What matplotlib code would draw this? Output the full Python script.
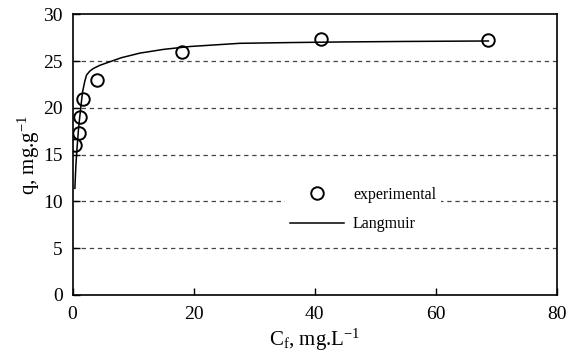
import matplotlib
matplotlib.use('Agg')
import matplotlib.pyplot as plt
from matplotlib.lines import Line2D

plt.rcParams['font.family'] = ['Liberation Serif', 'DejaVu Serif']
plt.rcParams['mathtext.fontset'] = 'custom'
plt.rcParams['mathtext.rm'] = 'Liberation Serif'
plt.rcParams['mathtext.it'] = 'Liberation Serif'

# experimental points (C_f, q)
exp_c = [0.38, 1.0, 1.15, 1.75, 4.0, 18.1, 41.1, 68.7]
exp_q = [16.0, 17.3, 19.0, 21.0, 23.0, 26.0, 27.4, 27.25]

# Langmuir curve
lang_c = [0.38, 0.55, 0.76, 1.0, 1.2, 1.45, 1.65, 2.0, 2.3, 2.8, 3.4, 4.5,
          5.6, 8.0, 11.1, 15.0, 19.4, 27.6, 35.9, 45.0, 55.0, 68.7]
lang_q = [11.4, 13.9, 15.9, 17.9, 19.1, 20.6, 21.7, 22.8, 23.5, 23.9, 24.2,
          24.55, 24.8, 25.35, 25.85, 26.25, 26.56, 26.9, 26.98, 27.05, 27.1, 27.15]

xticks = [0, 20, 40, 60, 80]
yticks = [0, 5, 10, 15, 20, 25, 30]

fig = plt.figure(figsize=(5.67, 3.58), dpi=100)
ax = fig.add_axes([0.128, 0.176, 0.854, 0.784])

for y in yticks[1:-1]:
    ax.axhline(y, color='#444444', lw=0.9, ls=(0, (3.5, 3)), zorder=1)

ax.plot(lang_c, lang_q, color='black', lw=1.1, zorder=3)
ax.plot(exp_c, exp_q, 'o', ms=9, mfc='none', mec='black', mew=1.4, zorder=4)

ax.set_xlim(0, 80)
ax.set_ylim(0, 30)
ax.set_xticks(xticks)
ax.set_yticks(yticks)
ax.tick_params(direction='in', length=5, width=1, labelsize=14)
ax.tick_params(axis='y', pad=7)
ax.tick_params(axis='x', pad=8)
for s in ax.spines.values():
    s.set_linewidth(1.2)

ax.set_xlabel(r'C$_\mathregular{f}$, mg.L$^\mathregular{-1}$', fontsize=15, labelpad=3)
ax.set_ylabel(r'q, mg.g$^\mathregular{-1}$', fontsize=15, labelpad=1)

handles = [Line2D([], [], ls='none', marker='o', ms=9, mfc='none', mec='black', mew=1.4),
           Line2D([], [], color='black', lw=1.1)]
leg = ax.legend(handles, ['experimental', 'Langmuir'], loc='center',
                bbox_to_anchor=(0.6, 0.305), frameon=True, fontsize=11.5,
                handlelength=3.4, handletextpad=0.55, labelspacing=0.85,
                borderpad=0.3)
leg.get_frame().set_edgecolor('none')
leg.get_frame().set_facecolor('white')
leg.get_frame().set_alpha(1)

fig.savefig('out.png', dpi=100)
